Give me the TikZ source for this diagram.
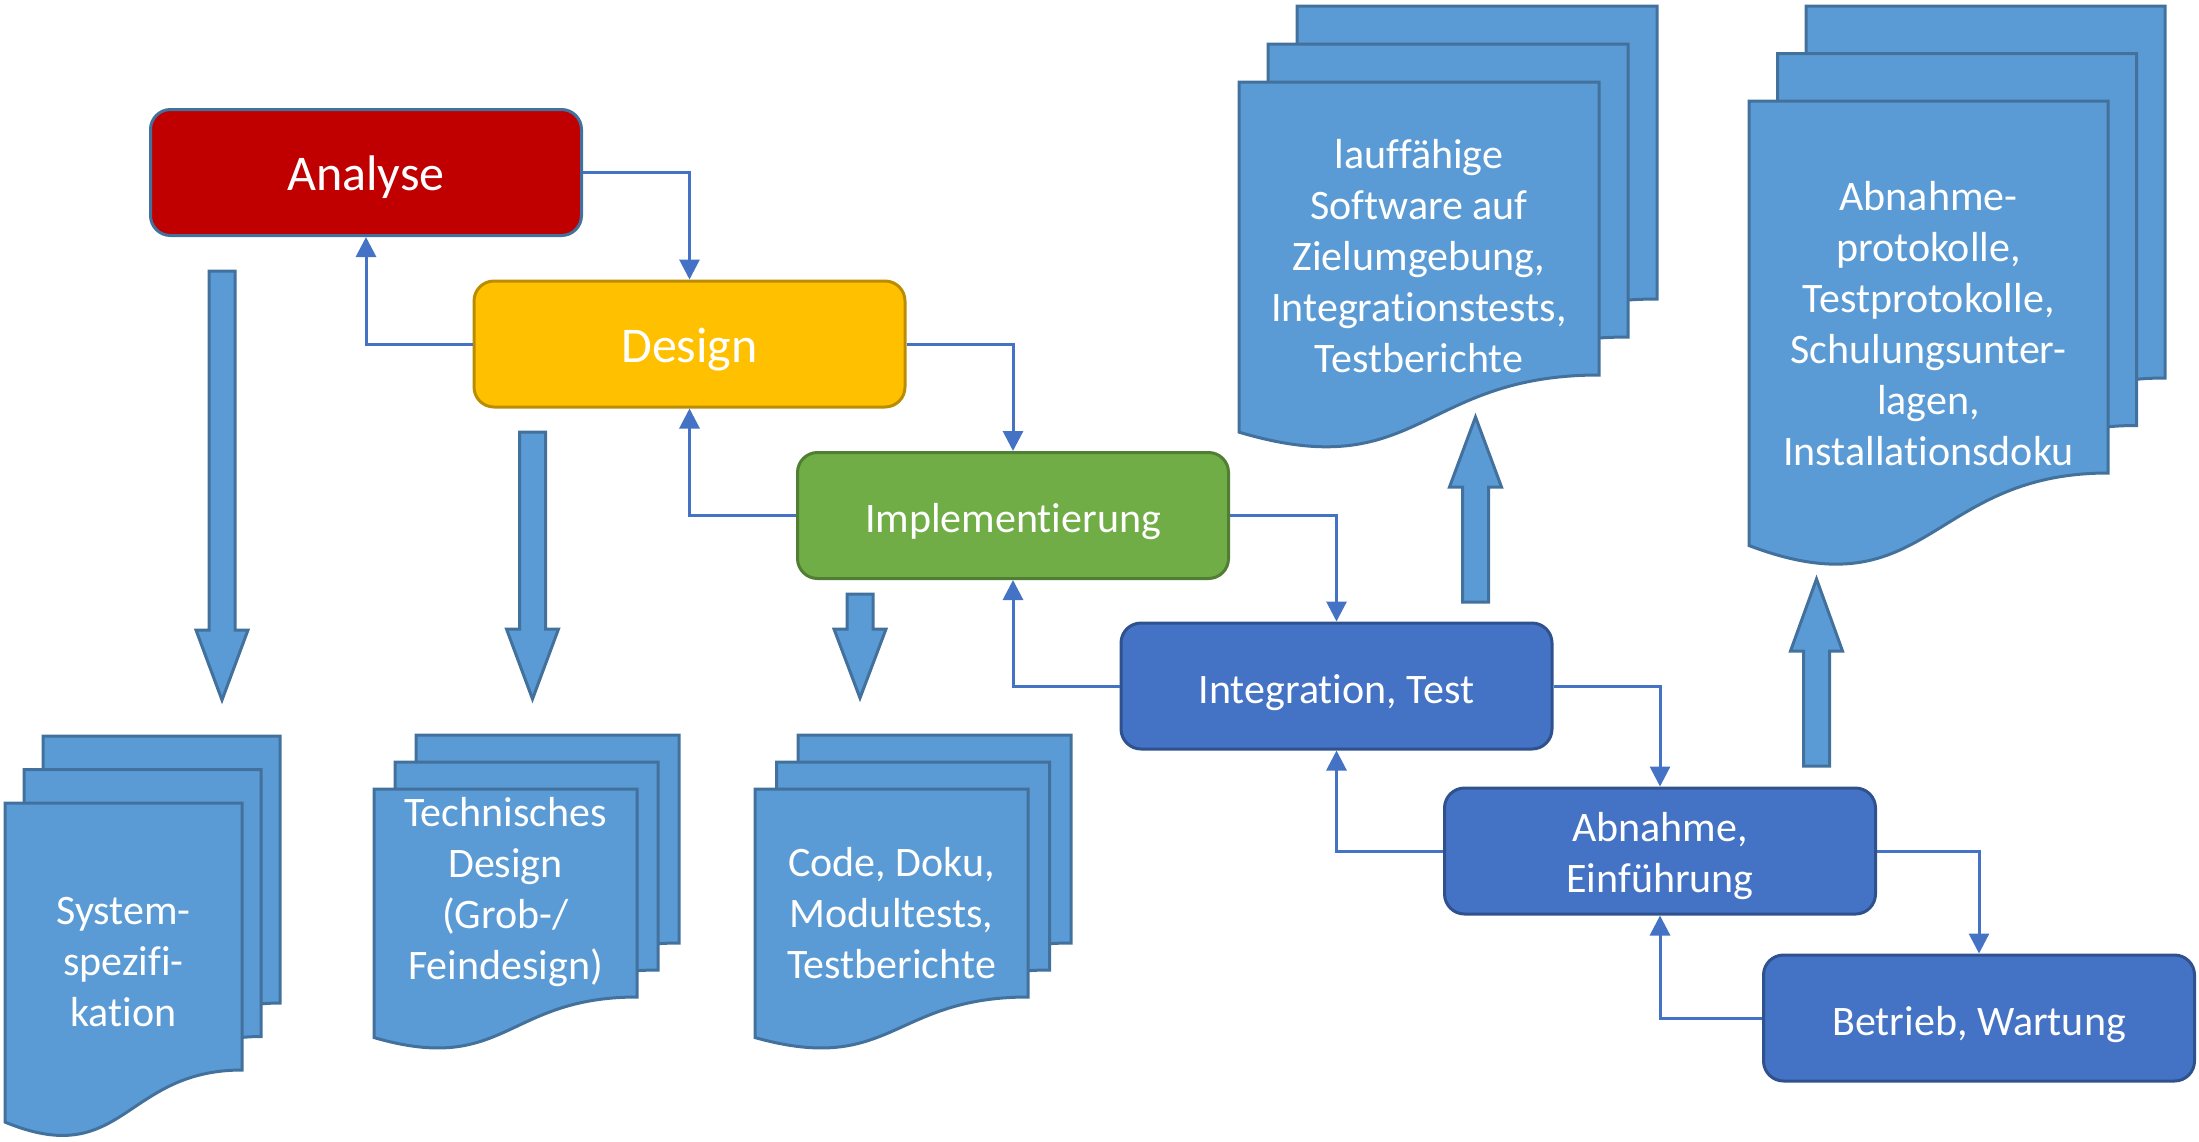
\documentclass[tikz,border=0pt]{standalone}
\usepackage{fontspec}
\setmainfont{Carlito}[Ligatures=NoCommon]
\usetikzlibrary{arrows.meta}

% stack of three sheets: x0, y0 (front sheet, top left), width, height of right edge, shift x, shift y
\newcommand{\docstack}[6]{%
  \foreach \k in {2,1,0}{
    \pgfmathsetmacro\sheetx{#1+\k*#5}
    \pgfmathsetmacro\sheety{#2-\k*#6}
    \draw[docsheet] (\sheetx,\sheety) -- ++(#3,0) -- ++(0,#4)
      .. controls ({\sheetx+#3/2},{\sheety+#4}) and ({\sheetx+#3/2},{\sheety+1.378*#4})
      .. (\sheetx,{\sheety+1.195*#4}) -- cycle;
  }}

\begin{document}
\begin{tikzpicture}[x=1pt,y=-1pt,
    phasebox/.style={rounded corners=20pt, line width=3pt, minimum width=431pt,
      minimum height=126pt, text=white, align=center,
      execute at end node={\rule[-0.27em]{0pt}{1.22em}}},
    phase/.style={phasebox, font=\fontsize{42}{51}\selectfont,
      execute at begin node={\rule[-0.27em]{0pt}{1.36em}}},
    bigphase/.style={phasebox, font=\fontsize{50}{61}\selectfont,
      execute at begin node={\rule[-0.27em]{0pt}{1.26em}}},
    conn/.style={draw=connblue, line width=3pt, -{Triangle[length=20pt,width=20pt]}},
    docsheet/.style={fill=docblue, draw=docborder, line width=3pt},
    blockarrow/.style={fill=docblue, draw=docborder, line width=3pt},
    doctext/.style={text=white, align=center, font=\fontsize{42}{51}\selectfont}]
  \useasboundingbox (0,0) rectangle (2199,1141);

  \definecolor{connblue}{HTML}{4472C4}
  \definecolor{docblue}{HTML}{5B9BD5}
  \definecolor{docborder}{HTML}{41719C}
  \definecolor{phasered}{HTML}{C00000}
  \definecolor{phasegold}{HTML}{FFC000}
  \definecolor{phasegoldline}{HTML}{BC8C00}
  \definecolor{phasegreen}{HTML}{70AD47}
  \definecolor{phasegreenline}{HTML}{507E32}
  \definecolor{phaseblue}{HTML}{4472C4}
  \definecolor{phaseblueline}{HTML}{2F528F}

  % Document stacks
  \docstack{5}{803}{237}{267}{19}{33.5}
  \docstack{374}{789}{263}{208}{21}{27}
  \docstack{755}{789}{273}{208}{21.5}{27}
  \docstack{1239}{82}{360}{293}{29}{38}
  \docstack{1749}{101}{359}{372}{28.5}{47.5}

  \node[doctext] (sysspec) at (123.5,962) {System-\\spezifi-\\kation};
  \node[doctext] (techdesign) at (505.5,892) {Technisches\\Design\\(Grob-/\\Feindesign)};
  \node[doctext] (codedoku) at (891.5,913) {Code, Doku,\\Modultests,\\Testberichte};
  \node[doctext] (software) at (1419,256) {lauffähige\\Software auf\\Zielumgebung,\\Integrationstests,\\Testberichte};
  \node[doctext] (protokolle) at (1928.5,324) {Abnahme-\\protokolle,\\Testprotokolle,\\Schulungsunter-\\lagen,\\Installationsdoku};

  % Block arrows: centre x, tail, head base, tip
  \foreach \cx/\ya/\yh/\yb in {222/271/630/700, 532.5/432/629/699, 860/594/629/698,
                               1475.5/602/487/417, 1816.5/766/651/579}
    \draw[blockarrow] ({\cx-13},\ya) -- ({\cx+13},\ya) -- ({\cx+13},\yh) -- ({\cx+26},\yh)
      -- (\cx,\yb) -- ({\cx-26},\yh) -- ({\cx-13},\yh) -- cycle;

  % Phases
  \node[bigphase, fill=phasered, draw=docborder] (analyse) at (366,172.5) {Analyse};
  \node[bigphase, fill=phasegold, draw=phasegoldline] (design) at (689.5,344) {Design};
  \node[phase, fill=phasegreen, draw=phasegreenline] (implement) at (1013,515.5) {Implementierung};
  \node[phase, fill=phaseblue, draw=phaseblueline] (integration) at (1336.5,686) {Integration, Test};
  \node[phase, fill=phaseblue, draw=phaseblueline,
        execute at begin node={\rule[-0.27em]{0pt}{2.51em}}] (acceptance) at (1660,851) {Abnahme,\\Einführung};
  \node[phase, fill=phaseblue, draw=phaseblueline] (operation) at (1979,1018) {Betrieb, Wartung};

  % Forward and backward steps
  \foreach \a/\b in {analyse/design, design/implement, implement/integration,
                     integration/acceptance, acceptance/operation}{
    \draw[conn] (\a.east) -| (\b.north);
    \draw[conn] (\b.west) -| (\a.south);
  }
\end{tikzpicture}
\end{document}
